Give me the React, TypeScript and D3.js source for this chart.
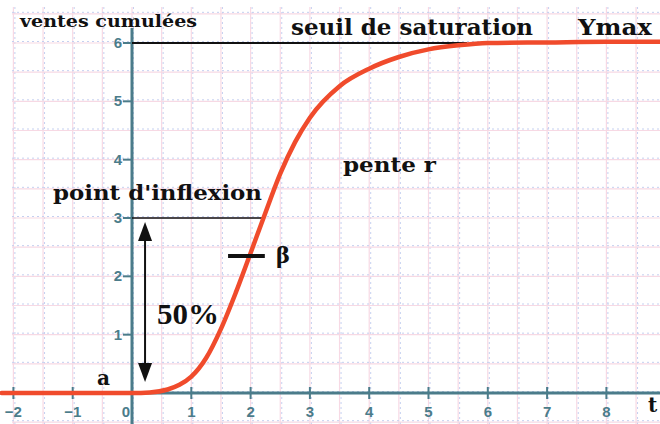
import React, { useEffect, useRef } from 'react';
import * as d3 from 'd3';

// Points (t, cumulative sales)
const curveT = [-2.2, 0, 0.3, 0.6, 0.8, 1, 1.25, 1.5, 1.75, 2, 2.25, 2.5, 2.75, 3, 3.5, 4, 4.5, 5, 5.5, 6, 7, 8, 9];
const curveY = [0, 0, 0.01, 0.06, 0.14, 0.28, 0.6, 1.1, 1.72, 2.4, 3.09, 3.76, 4.3, 4.72, 5.26, 5.56, 5.76, 5.89, 5.96, 6.0, 6.01, 6.02, 6.02];

const xTicks = [-2, -1, 0, 1, 2, 3, 4, 5, 6, 7, 8];
const yTicks = [1, 2, 3, 4, 5, 6];

// Annotation anchors (data units)
const ymax = 6;
const saturationEnd = 5.65;
const inflexionY = 3;
const inflexionT = 2.22;
const betaY = 2.35;
const betaRange = [1.62, 2.24];
const arrowT = 0.22;
const arrowRange = [0.19, 2.93];

export default function App() {
  const svgRef = useRef<SVGSVGElement>(null);
  const width = 660;
  const height = 424;

  useEffect(() => {
    if (!svgRef.current) return;
    const svg = d3.select(svgRef.current);
    svg.selectAll('*').remove();

    const x = d3.scaleLinear().domain([0, 8]).range([132, 606.4]);
    const y = d3.scaleLinear().domain([0, 6]).range([393, 43]);

    svg.append('rect').attr('width', width).attr('height', height).attr('fill', '#fff');

    // graph paper grid, every half unit
    const grid = svg.append('g');
    const gx = d3.range(-2, 9.01, 0.5);
    const gy = d3.range(-0.5, 6.51, 0.5);
    gx.forEach(v => {
      grid.append('line').attr('x1', x(v)).attr('x2', x(v)).attr('y1', 7).attr('y2', height)
        .attr('stroke', '#f7d9e4').attr('stroke-width', 1.2);
      grid.append('line').attr('x1', x(v) + 1.5).attr('x2', x(v) + 1.5).attr('y1', 7).attr('y2', height)
        .attr('stroke', '#c5d0f0').attr('stroke-width', 1).attr('stroke-dasharray', '2,3');
    });
    gy.forEach(v => {
      grid.append('line').attr('x1', 12).attr('x2', width).attr('y1', y(v)).attr('y2', y(v))
        .attr('stroke', '#f7d9e4').attr('stroke-width', 1.2);
      grid.append('line').attr('x1', 12).attr('x2', width).attr('y1', y(v) - 1.5).attr('y2', y(v) - 1.5)
        .attr('stroke', '#c5d0f0').attr('stroke-width', 1).attr('stroke-dasharray', '2,3');
    });

    // axes
    const axisColor = '#4b7c8a';
    svg.append('line').attr('x1', 15).attr('x2', width).attr('y1', y(0)).attr('y2', y(0))
      .attr('stroke', axisColor).attr('stroke-width', 3);
    svg.append('line').attr('x1', x(0)).attr('x2', x(0)).attr('y1', 28).attr('y2', height)
      .attr('stroke', axisColor).attr('stroke-width', 3);

    xTicks.forEach(t => {
      if (t !== 0) {
        svg.append('line').attr('x1', x(t)).attr('x2', x(t)).attr('y1', y(0) - 6).attr('y2', y(0) + 6)
          .attr('stroke', axisColor).attr('stroke-width', 2);
      }
      svg.append('text')
        .attr('x', t === 0 ? x(t) - 6 : x(t))
        .attr('y', 417)
        .attr('text-anchor', 'middle')
        .attr('font-family', 'Liberation Sans, Arial, sans-serif')
        .attr('font-weight', 'bold')
        .attr('font-size', 15)
        .attr('fill', axisColor)
        .text(t < 0 ? `\u2212${-t}` : `${t}`);
    });
    svg.append('text').attr('x', 648).attr('y', 412)
      .attr('font-family', 'DejaVu Serif, serif').attr('font-weight', 'bold').attr('font-size', 20)
      .attr('fill', '#111').text('t');

    yTicks.forEach(v => {
      svg.append('line').attr('x1', x(0) - 9).attr('x2', x(0)).attr('y1', y(v)).attr('y2', y(v))
        .attr('stroke', axisColor).attr('stroke-width', 2);
      svg.append('text')
        .attr('x', x(0) - 10)
        .attr('y', y(v) + 5)
        .attr('text-anchor', 'end')
        .attr('font-family', 'Liberation Sans, Arial, sans-serif')
        .attr('font-weight', 'bold')
        .attr('font-size', 15)
        .attr('fill', axisColor)
        .text(v);
    });

    // black reference lines
    svg.append('line').attr('x1', x(0)).attr('x2', x(saturationEnd)).attr('y1', y(ymax)).attr('y2', y(ymax))
      .attr('stroke', '#111').attr('stroke-width', 2);
    svg.append('line').attr('x1', x(0)).attr('x2', x(inflexionT)).attr('y1', y(inflexionY)).attr('y2', y(inflexionY))
      .attr('stroke', '#111').attr('stroke-width', 1.5);

    // the S-curve
    const pts = curveT.map((t, i) => [t, curveY[i]] as [number, number]);
    const line = d3.line<[number, number]>()
      .x(d => x(d[0]))
      .y(d => y(d[1]))
      .curve(d3.curveMonotoneX);
    svg.append('path').datum(pts).attr('d', line)
      .attr('fill', 'none').attr('stroke', '#f04b2c').attr('stroke-width', 4.5)
      .attr('stroke-linecap', 'round');

    // beta marker
    svg.append('line').attr('x1', x(betaRange[0])).attr('x2', x(betaRange[1])).attr('y1', y(betaY)).attr('y2', y(betaY))
      .attr('stroke', '#111').attr('stroke-width', 4);

    // double arrow (50%)
    const ax = x(arrowT);
    const yTop = y(arrowRange[1]);
    const yBot = y(arrowRange[0]);
    svg.append('line').attr('x1', ax).attr('x2', ax).attr('y1', yTop + 10).attr('y2', yBot - 10)
      .attr('stroke', '#111').attr('stroke-width', 2);
    svg.append('path').attr('d', `M${ax},${yTop} L${ax - 7},${yTop + 19} L${ax + 7},${yTop + 19} Z`).attr('fill', '#111');
    svg.append('path').attr('d', `M${ax},${yBot} L${ax - 7},${yBot - 19} L${ax + 7},${yBot - 19} Z`).attr('fill', '#111');

    // labels
    const label = (txt: string, lx: number, ly: number, size: number, len: number, family = 'DejaVu Serif, serif') => {
      svg.append('text')
        .attr('x', lx).attr('y', ly)
        .attr('font-family', family)
        .attr('font-weight', 'bold')
        .attr('font-size', size)
        .attr('fill', '#111')
        .attr('textLength', len)
        .attr('lengthAdjust', 'spacingAndGlyphs')
        .text(txt);
    };
    label('ventes cumulées', 20, 27, 17, 177);
    label('seuil de saturation', 291, 35, 22, 242);
    label('Ymax', 578, 35, 22, 74);
    label('pente r', 343, 172, 21, 93);
    label("point d'inflexion", 53, 200, 21, 209);
    label('50%', 157, 324, 30, 62, 'Liberation Serif, serif');
    label('a', 97, 385, 20, 13);
    label('β', 276, 263, 22, 14);
  }, []);

  return (
    <div style={{ position: 'absolute', left: 0, top: 0 }}>
      <svg ref={svgRef} width={width} height={height}></svg>
    </div>
  );
}
